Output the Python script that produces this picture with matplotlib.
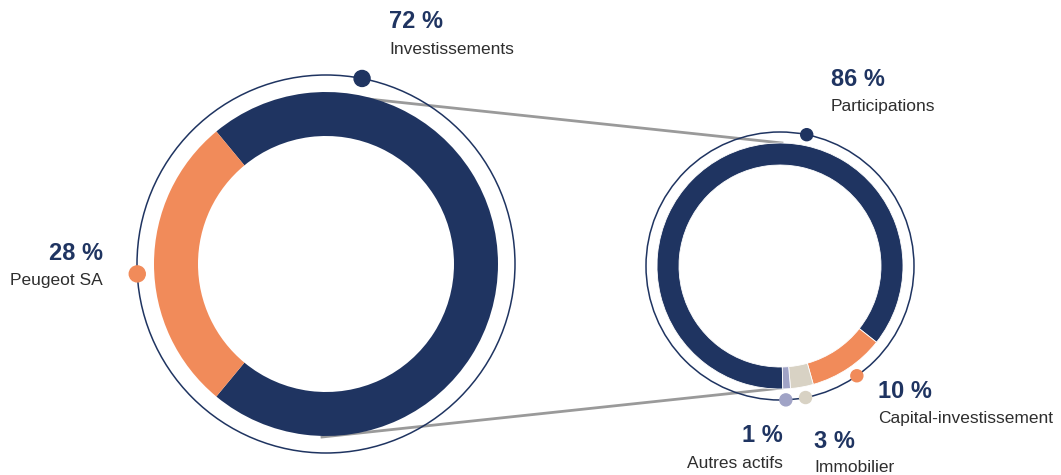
import matplotlib.pyplot as plt
from matplotlib.patches import Circle
import numpy as np

W, H = 1061, 475

# data
left_names = ['Investissements', 'Peugeot SA']
left_values = [72, 28]
right_names = ['Participations', 'Capital-investissement', 'Immobilier', 'Autres actifs']
right_values = [86, 10, 3, 1]

navy = '#1f3461'
orange = '#f18b5a'
beige = '#d8d2c4'
lavender = '#a0a3c6'
grey_txt = '#2e2e2e'

plt.rcParams['font.family'] = ['Liberation Sans', 'DejaVu Sans']

fig = plt.figure(figsize=(W / 100, H / 100), dpi=100)
ax = fig.add_axes([0, 0, 1, 1])

def Y(y):
    return H - y

# left donut
lc = (326, Y(264))
ax.pie(left_values, colors=[navy, orange], startangle=-129.6, counterclock=True,
       radius=172, center=lc, wedgeprops=dict(width=44, linewidth=0))
ax.add_patch(Circle(lc, 189, fill=False, ec=navy, lw=1.1))

# right donut (clockwise from bottom)
rc = (780, Y(266))
ax.pie(right_values, colors=[navy, orange, beige, lavender], startangle=-88.7,
       counterclock=False, radius=123, center=rc,
       wedgeprops=dict(width=22, linewidth=0.6, edgecolor='white'))
ax.add_patch(Circle(rc, 134, fill=False, ec=navy, lw=1.1))

# connector lines
ax.plot([340, 782], [Y(96), Y(143)], color='#9a9a9a', lw=2, zorder=0)
ax.plot([322, 782], [Y(437), Y(388)], color='#9a9a9a', lw=2, zorder=0)

# dots on the outer circles
def dot(c, r, ang, col, size):
    a = np.deg2rad(ang)
    ax.add_patch(Circle((c[0] + r * np.cos(a), c[1] + r * np.sin(a)), size, color=col, zorder=5))

dot(lc, 189, 79, navy, 8)
dot(lc, 189, 183, orange, 8)
dot(rc, 134, 78.5, navy, 6)
dot(rc, 134, -55, orange, 6)
dot(rc, 134, -79, beige, 6)
dot(rc, 134, -87.5, lavender, 6)

def label(x, y, pct, name, ha='left'):
    ax.text(x, Y(y), f'{pct} %', ha=ha, va='center', fontsize=17, fontweight='bold', color=navy)
    ax.text(x, Y(y + 27), name, ha=ha, va='center', fontsize=12.5, color=grey_txt)

label(389, 22, left_values[0], left_names[0])
label(103, 254, left_values[1], left_names[1], ha='right')
label(831, 80, right_values[0], right_names[0])
label(878, 392, right_values[1], right_names[1])
label(814, 441, right_values[2], right_names[2])
label(783, 436, right_values[3], right_names[3], ha='right')

ax.set_xlim(0, W)
ax.set_ylim(0, H)
ax.set_aspect('auto')
ax.axis('off')

fig.savefig('out.png', dpi=100)
